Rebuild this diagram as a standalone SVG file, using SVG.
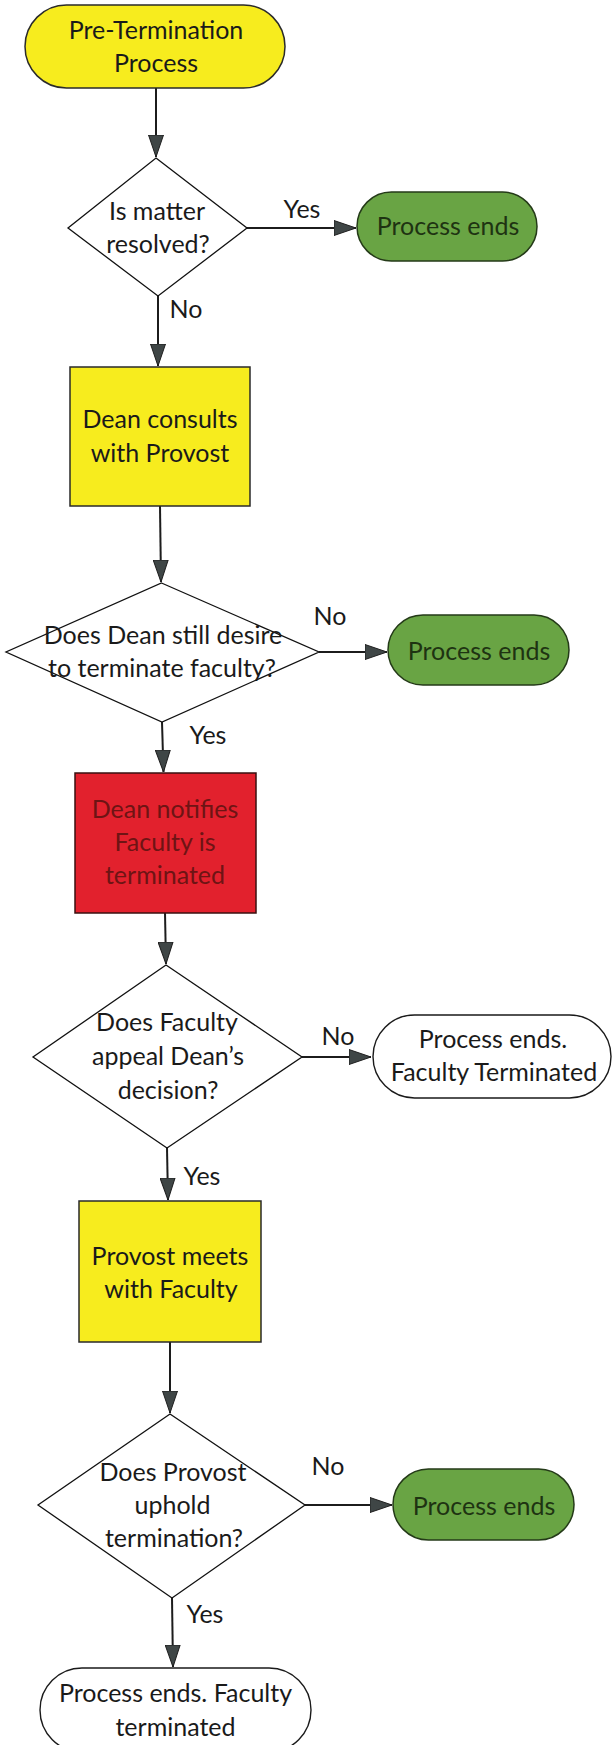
<svg xmlns="http://www.w3.org/2000/svg" width="613" height="1745" viewBox="0 0 613 1745">
<style>
text{font-family:Lato,"Open Sans","Liberation Sans",sans-serif;font-size:25px;fill:#1a1a1a;text-anchor:middle}
.lbl{text-anchor:middle}
.yel{fill:#f7ec1e;stroke:#2a2a2a;stroke-width:1.5}
.grn{fill:#69a444;stroke:#243a18;stroke-width:1.5}
.red{fill:#e2212d;stroke:#3a1010;stroke-width:1.5}
.wht{fill:#ffffff;stroke:#1a1a1a;stroke-width:1.4}
.dia{fill:#ffffff;stroke:#111;stroke-width:1.3}
.gt{fill:#1e3312}
.rt{fill:#6e1414}
.con line{stroke:#1c1c1c;stroke-width:2;marker-end:url(#ah)}
</style>
<defs>
<marker id="ah" viewBox="0 0 22 16" refX="22" refY="8" markerWidth="22" markerHeight="16" markerUnits="userSpaceOnUse" orient="auto">
<path d="M0,0.5 L22,8 L0,15.5 z" fill="#3f4646" stroke="#1f1f1f" stroke-width="1"/>
</marker>
</defs>
<rect width="613" height="1745" fill="#ffffff"/>

<g id="connectors" class="con">
<line x1="156" y1="88" x2="156" y2="157"/>
<line x1="247" y1="228" x2="356" y2="228"/>
<line x1="158" y1="296" x2="158" y2="366"/>
<line x1="160" y1="506" x2="161" y2="582"/>
<line x1="319" y1="652" x2="387" y2="652"/>
<line x1="162" y1="722" x2="163.5" y2="772"/>
<line x1="165" y1="913" x2="166" y2="964"/>
<line x1="302" y1="1057" x2="371" y2="1057"/>
<line x1="167" y1="1148" x2="168" y2="1200"/>
<line x1="170" y1="1342" x2="170" y2="1413"/>
<line x1="305" y1="1505" x2="392" y2="1505"/>
<line x1="172" y1="1598" x2="173" y2="1667"/>
</g>

<g id="edge-labels">
<text x="302" y="218">Yes</text>
<text x="186" y="318">No</text>
<text x="330" y="625">No</text>
<text x="208" y="744">Yes</text>
<text x="338" y="1045">No</text>
<text x="202" y="1185">Yes</text>
<text x="328" y="1475">No</text>
<text x="205" y="1623">Yes</text>
</g>

<g id="start">
<rect class="yel" x="25" y="5" width="260" height="83" rx="41.5"/>
<text x="156" y="39">Pre-Termination</text>
<text x="156" y="72">Process</text>
</g>

<g id="d1">
<polygon class="dia" points="156,158 247,228 158,296 68,228"/>
<text x="157" y="220">Is matter</text>
<text x="158" y="253">resolved?</text>
</g>

<g id="end1">
<rect class="grn" x="357" y="192" width="180" height="69" rx="34.5"/>
<text class="gt" x="448" y="235">Process ends</text>
</g>

<g id="consult">
<rect class="yel" x="70" y="367" width="180" height="139"/>
<text x="160" y="428">Dean consults</text>
<text x="160" y="462">with Provost</text>
</g>

<g id="d2">
<polygon class="dia" points="161.5,583 319,652 162,722 6,652"/>
<text x="163" y="644">Does Dean still desire</text>
<text x="162" y="677">to terminate faculty?</text>
</g>

<g id="end2">
<rect class="grn" x="388" y="615" width="181" height="70" rx="35"/>
<text class="gt" x="479" y="660">Process ends</text>
</g>

<g id="notify">
<rect class="red" x="75" y="773" width="181" height="140"/>
<text class="rt" x="165" y="818">Dean notifies</text>
<text class="rt" x="165" y="851">Faculty is</text>
<text class="rt" x="165" y="884">terminated</text>
</g>

<g id="d3">
<polygon class="dia" points="166,965 302,1057 167,1148 33,1057"/>
<text x="167" y="1031">Does Faculty</text>
<text x="168" y="1065">appeal Dean’s</text>
<text x="168" y="1099">decision?</text>
</g>

<g id="end3">
<rect class="wht" x="373" y="1015" width="238" height="83" rx="41.5"/>
<text x="493" y="1048">Process ends.</text>
<text x="494" y="1081">Faculty Terminated</text>
</g>

<g id="meet">
<rect class="yel" x="79" y="1201" width="182" height="141"/>
<text x="170" y="1265">Provost meets</text>
<text x="171" y="1298">with Faculty</text>
</g>

<g id="d4">
<polygon class="dia" points="170,1414 305,1505 172,1598 38,1505"/>
<text x="173" y="1481">Does Provost</text>
<text x="172.5" y="1514">uphold</text>
<text x="174" y="1547">termination?</text>
</g>

<g id="end4">
<rect class="grn" x="393" y="1469" width="181" height="71" rx="35.5"/>
<text class="gt" x="484" y="1515">Process ends</text>
</g>

<g id="end5">
<rect class="wht" x="40" y="1668" width="271" height="84" rx="42"/>
<text x="175.5" y="1702">Process ends. Faculty</text>
<text x="175.5" y="1736">terminated</text>
</g>
</svg>
